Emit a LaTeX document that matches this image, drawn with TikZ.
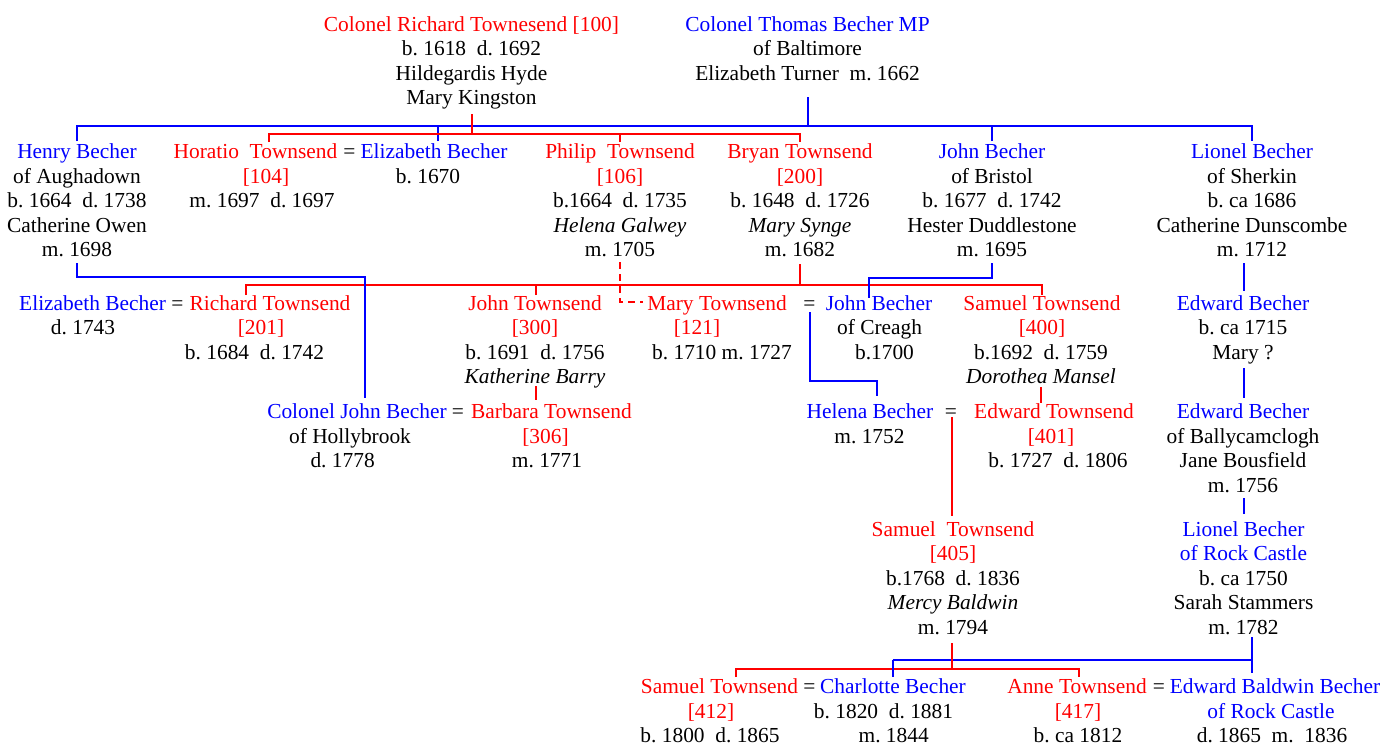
\documentclass[tikz,border=0pt]{standalone}
\usepackage{fontspec}
\setmainfont{Liberation Serif}
\frenchspacing
\begin{document}
\begin{tikzpicture}[x=1pt,y=-1pt,
  ln/.style={anchor=base,inner sep=0pt,font=\fontsize{21.4}{24.5}\selectfont\frenchspacing},
  rn/.style={ln,text=red},
  bn/.style={ln,text=blue},
  rl/.style={draw=red,line width=2pt},
  bll/.style={draw=blue,line width=2pt},
  rdash/.style={rl,dash pattern=on 7pt off 5pt}]
\useasboundingbox[fill=white] (0,0) rectangle (1394,745);
% ---------- Row 1
\node[rn] (crt1) at (471.5,31) {Colonel Richard Townesend [100]};
\node[ln] (crt2) at (471.5,55.5) {b. 1618~~d. 1692};
\node[ln] (crt3) at (471.5,80) {Hildegardis Hyde};
\node[ln] (crt4) at (471.5,104.5) {Mary Kingston};
\node[bn] (ctb1) at (807.5,31) {Colonel Thomas Becher MP};
\node[ln] (ctb2) at (807.5,55.5) {of Baltimore};
\node[ln] (ctb3) at (807.5,80) {Elizabeth Turner~~m. 1662};
% ---------- Row 2
\node[bn] (hb1) at (77,158.7) {Henry Becher};
\node[ln] (hb2) at (77,183.2) {of Aughadown};
\node[ln] (hb3) at (77,207.7) {b. 1664~~d. 1738};
\node[ln] (hb4) at (77,232.2) {Catherine Owen};
\node[ln] (hb5) at (77,256.7) {m. 1698};
\node[rn] (ht1) at (255.5,158.7) {Horatio~~Townsend};
\node[ln] (eq1) at (349.5,158.7) {=};
\node[bn] (eb1) at (434,158.7) {Elizabeth Becher};
\node[rn] (ht2) at (266,183.2) {[104]};
\node[ln] (ht3) at (262,207.7) {m. 1697~~d. 1697};
\node[ln] (eb2) at (428,183.2) {b. 1670};
\node[rn] (pt1) at (620,158.7) {Philip~~Townsend};
\node[rn] (pt2) at (620,183.2) {[106]};
\node[ln] (pt3) at (620,207.7) {b.1664~~d. 1735};
\node[ln] (pt4) at (620,232.2) {\textit{Helena Galwey}};
\node[ln] (pt5) at (620,256.7) {m. 1705};
\node[rn] (bt1) at (800,158.7) {Bryan Townsend};
\node[rn] (bt2) at (800,183.2) {[200]};
\node[ln] (bt3) at (800,207.7) {b. 1648~~d. 1726};
\node[ln] (bt4) at (800,232.2) {\textit{Mary Synge}};
\node[ln] (bt5) at (800,256.7) {m. 1682};
\node[bn] (jb1) at (992,158.7) {John Becher};
\node[ln] (jb2) at (992,183.2) {of Bristol};
\node[ln] (jb3) at (992,207.7) {b. 1677~~d. 1742};
\node[ln] (jb4) at (992,232.2) {Hester Duddlestone};
\node[ln] (jb5) at (992,256.7) {m. 1695};
\node[bn] (lb1) at (1252,158.7) {Lionel Becher};
\node[ln] (lb2) at (1252,183.2) {of Sherkin};
\node[ln] (lb3) at (1252,207.7) {b. ca 1686};
\node[ln] (lb4) at (1252,232.2) {Catherine Dunscombe};
\node[ln] (lb5) at (1252,256.7) {m. 1712};
% ---------- Row 3
\node[bn] (ez1) at (92.6,310) {Elizabeth Becher};
\node[ln] (eq2) at (177.5,310) {=};
\node[rn] (rt1) at (270,310) {Richard Townsend};
\node[ln] (ez2) at (83,334.5) {d. 1743};
\node[rn] (rt2) at (261,334.5) {[201]};
\node[ln] (rt3) at (254.5,359) {b. 1684~~d. 1742};
\node[rn] (jt1) at (535,310) {John Townsend};
\node[rn] (jt2) at (535,334.5) {[300]};
\node[ln] (jt3) at (535,359) {b. 1691~~d. 1756};
\node[ln] (jt4) at (535,383.5) {\textit{Katherine Barry}};
\node[rn] (mt1) at (717,310) {Mary Townsend};
\node[ln] (eq3) at (809.5,310) {=};
\node[bn] (jc1) at (879,310) {John Becher};
\node[rn] (mt2) at (697,334.5) {[121]};
\node[ln] (mt3) at (722,359) {b. 1710 m. 1727};
\node[ln] (jc2) at (879.6,334.5) {of Creagh};
\node[ln] (jc3) at (884.5,359) {b.1700};
\node[rn] (st1) at (1042,310) {Samuel Townsend};
\node[rn] (st2) at (1042,334.5) {[400]};
\node[ln] (st3) at (1041,359) {b.1692~~d. 1759};
\node[ln] (st4) at (1041,383.5) {\textit{Dorothea Mansel}};
\node[bn] (ed1) at (1243,310) {Edward Becher};
\node[ln] (ed2) at (1243,334.5) {b. ca 1715};
\node[ln] (ed3) at (1243,359) {Mary ?};
% ---------- Row 4
\node[bn] (cj1) at (357,418.8) {Colonel John Becher};
\node[ln] (eq4) at (458,418.8) {=};
\node[rn] (ba1) at (551.5,418.8) {Barbara Townsend};
\node[ln] (cj2) at (350,443.3) {of Hollybrook};
\node[ln] (cj3) at (342.6,467.8) {d. 1778};
\node[rn] (ba2) at (545.5,443.3) {[306]};
\node[ln] (ba3) at (547,467.8) {m. 1771};
\node[bn] (he1) at (870,418.8) {Helena Becher};
\node[ln] (eq5) at (951,418.8) {=};
\node[rn] (et1) at (1054,418.8) {Edward Townsend};
\node[ln] (he2) at (869.5,443.3) {m. 1752};
\node[rn] (et2) at (1051,443.3) {[401]};
\node[ln] (et3) at (1058,467.8) {b. 1727~~d. 1806};
\node[bn] (eb21) at (1243,418.8) {Edward Becher};
\node[ln] (eb22) at (1243,443.3) {of Ballycamclogh};
\node[ln] (eb23) at (1243,467.8) {Jane Bousfield};
\node[ln] (eb24) at (1243,492.3) {m. 1756};
% ---------- Row 5
\node[rn] (s51) at (953,536) {Samuel~~Townsend};
\node[rn] (s52) at (953,560.5) {[405]};
\node[ln] (s53) at (953,585) {b.1768~~d. 1836};
\node[ln] (s54) at (953,609.5) {\textit{Mercy Baldwin}};
\node[ln] (s55) at (953,634) {m. 1794};
\node[bn] (lr1) at (1243.5,536) {Lionel Becher};
\node[bn] (lr2) at (1243.5,560.5) {of Rock Castle};
\node[ln] (lr3) at (1243.5,585) {b. ca 1750};
\node[ln] (lr4) at (1243.5,609.5) {Sarah Stammers};
\node[ln] (lr5) at (1243.5,634) {m. 1782};
% ---------- Row 6
\node[rn] (s61) at (719.5,693.5) {Samuel Townsend};
\node[ln] (eq6) at (809.5,693.5) {=};
\node[bn] (cb1) at (893,693.5) {Charlotte Becher};
\node[rn] (s62) at (711,718) {[412]};
\node[ln] (s63) at (710,742.5) {b. 1800~~d. 1865};
\node[ln] (cb2) at (883.5,718) {b. 1820~~d. 1881};
\node[ln] (cb3) at (893.7,742.5) {m. 1844};
\node[rn] (an1) at (1077,693.5) {Anne Townsend};
\node[ln] (eq7) at (1159,693.5) {=};
\node[bn] (bb1) at (1275,693.5) {Edward Baldwin Becher};
\node[rn] (an2) at (1078,718) {[417]};
\node[ln] (an3) at (1078,742.5) {b. ca 1812};
\node[bn] (bb2) at (1271,718) {of Rock Castle};
\node[ln] (bb3) at (1272,742.5) {d. 1865~~m.~~1836};
% ---------- connector coordinates
\coordinate (T1) at (808,97);   \coordinate (T2) at (808,125.5);
\coordinate (H0) at (77,141);   \coordinate (L0) at (1252,141);
\coordinate (E0) at (437.5,141); \coordinate (J0) at (992,141);
\coordinate (R1) at (472,114);  \coordinate (R2) at (472,133.5);
\coordinate (Ho0) at (268.5,142); \coordinate (Ph0) at (620,142); \coordinate (By0) at (800,142);
\coordinate (H1) at (77,263);   \coordinate (Hk) at (365,277); \coordinate (CJ0) at (365,398);
\coordinate (By1) at (800,264); \coordinate (Rb) at (800,285);
\coordinate (Ri0) at (245.5,295); \coordinate (JT0) at (536,295); \coordinate (Sa0) at (1042,295);
\coordinate (Ph1) at (620,262); \coordinate (Ma0) at (643,302);
\coordinate (J1) at (992,263);  \coordinate (Jk) at (869,278); \coordinate (JC0) at (869,298);
\coordinate (Q1) at (809.5,312); \coordinate (Qk) at (877,381); \coordinate (HB0) at (877,396);
\coordinate (K1) at (536,386); \coordinate (K2) at (536,400);
\coordinate (D1) at (1041,387);  \coordinate (D2) at (1041,403);
\coordinate (C1) at (1244,263);  \coordinate (C2) at (1244,291);
\coordinate (C3) at (1244,368);  \coordinate (C4) at (1244,398);
\coordinate (C5) at (1244,498);  \coordinate (C6) at (1244,514);
\coordinate (Z1) at (952,417); \coordinate (Z2) at (952,516);
\coordinate (M1) at (952,643);   \coordinate (M2) at (952,669);
\coordinate (S0) at (735.7,677); \coordinate (A0) at (1078.5,677);
\coordinate (LR1) at (1252,637); \coordinate (LR2) at (1252,673);
\coordinate (Cb0) at (892.7,677); \coordinate (Cbk) at (892.7,660); \coordinate (Bk) at (1252,660);
% ---------- connectors
\draw[bll] (T1) -- (T2);
\draw[bll] (H0) |- (T2) -| (L0);
\draw[bll] (E0) -- (E0 |- T2);
\draw[bll] (J0) -- (J0 |- T2);
\draw[rl] (R1) -- (R2);
\draw[rl] (Ho0) |- (R2) -| (By0);
\draw[rl] (Ph0) -- (Ph0 |- R2);
\draw[rl] (By1) -- (Rb);
\draw[rl] (Ri0) |- (Rb) -| (Sa0);
\draw[rl] (JT0) -- (JT0 |- Rb);
\draw[rdash] (Ph1) |- (Ma0);
\draw[bll] (H1) |- (Hk) -- (CJ0);
\draw[bll] (J1) |- (Jk) -- (JC0);
\draw[bll] (Q1) |- (Qk) -- (HB0);
\draw[rl] (K1) -- (K2);
\draw[rl] (D1) -- (D2);
\draw[bll] (C1) -- (C2);
\draw[bll] (C3) -- (C4);
\draw[bll] (C5) -- (C6);
\draw[rl] (Z1) -- (Z2);
\draw[bll] (Cbk) -- (Bk);
\draw[bll] (LR1) -- (LR2);
\draw[rl] (M1) -- (M2);
\draw[rl] (S0) |- (M2) -| (A0);
\draw[bll] (Cbk) -- (Cb0);
\end{tikzpicture}
\end{document}
